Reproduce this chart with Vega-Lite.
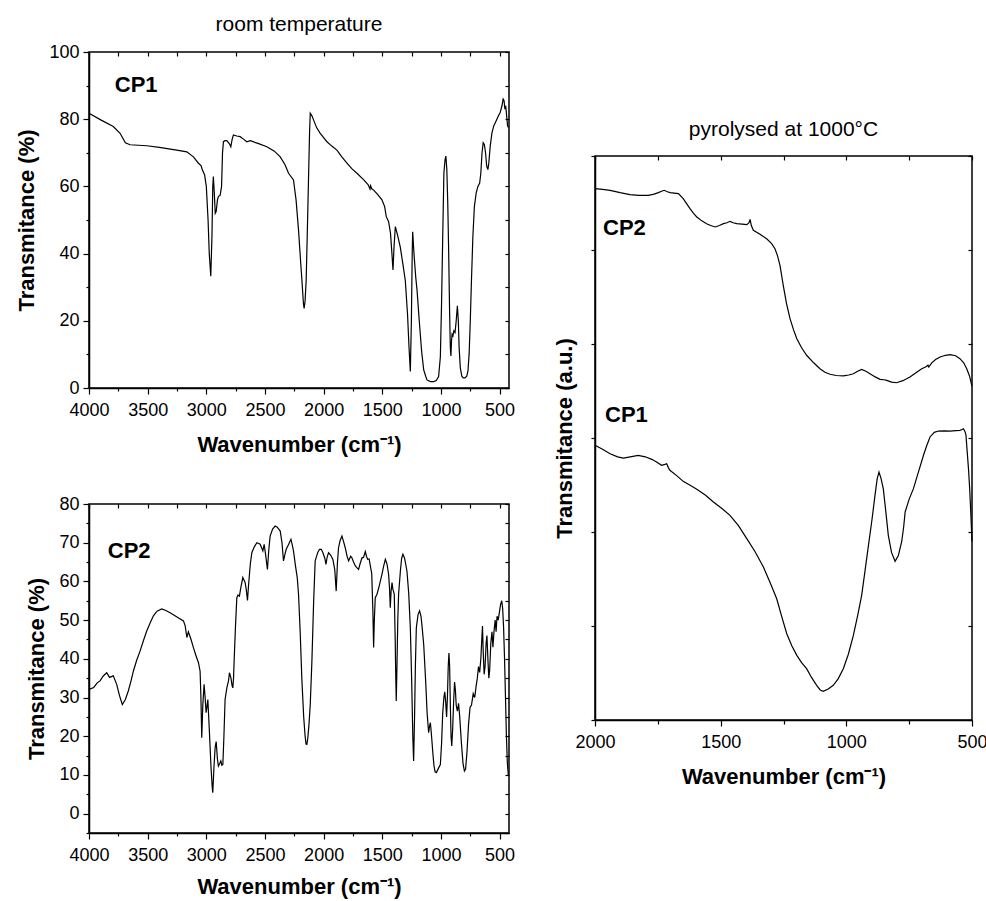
{
"$schema":"https://vega.github.io/schema/vega-lite/v6.json",
"padding":{"left":15,"top":13,"right":5,"bottom":2},
"config":{"font":"Liberation Sans","view":{"stroke":"black","strokeWidth":1.5},
"axis":{"labelFont":"Liberation Sans","labelFontSize":18,"labelColor":"black","titleFont":"Liberation Sans","titleFontSize":22,"titleFontWeight":"bold","titleColor":"black","domainColor":"black","domainWidth":1.5,"tickColor":"black","tickWidth":1.2,"grid":false,"labelFlush":false,"labelOverlap":false},
"title":{"font":"Liberation Sans","fontSize":21,"fontWeight":"normal","color":"black"}},
"datasets":{
"rt1":[{"wn":4000,"t":81.8},{"wn":3900,"t":79.8},{"wn":3793,"t":77.8},{"wn":3735,"t":75.8},{"wn":3690,"t":73.0},{"wn":3650,"t":72.4},{"wn":3508,"t":72.1},{"wn":3400,"t":71.6},{"wn":3252,"t":70.8},{"wn":3166,"t":70.3},{"wn":3110,"t":68.8},{"wn":3067,"t":66.9},{"wn":3045,"t":66.2},{"wn":3035,"t":65.0},{"wn":3015,"t":63.5},{"wn":3000,"t":60},{"wn":2985,"t":50},{"wn":2975,"t":40},{"wn":2962,"t":33.3},{"wn":2952,"t":45},{"wn":2945,"t":60},{"wn":2940,"t":62.9},{"wn":2932,"t":58},{"wn":2924,"t":52},{"wn":2916,"t":52.5},{"wn":2905,"t":56},{"wn":2897,"t":57},{"wn":2882,"t":57.4},{"wn":2870,"t":60},{"wn":2862,"t":70},{"wn":2854,"t":73.3},{"wn":2840,"t":73.6},{"wn":2825,"t":73.6},{"wn":2800,"t":72.5},{"wn":2791,"t":71.8},{"wn":2780,"t":74},{"wn":2769,"t":75.3},{"wn":2740,"t":75},{"wn":2712,"t":74.8},{"wn":2680,"t":74},{"wn":2655,"t":73.3},{"wn":2626,"t":73.6},{"wn":2560,"t":72.8},{"wn":2484,"t":71.8},{"wn":2420,"t":70.5},{"wn":2370,"t":68.8},{"wn":2330,"t":66.5},{"wn":2299,"t":63.9},{"wn":2257,"t":61.9},{"wn":2235,"t":56},{"wn":2214,"t":47},{"wn":2195,"t":37},{"wn":2185,"t":32},{"wn":2172,"t":25},{"wn":2166,"t":23.7},{"wn":2158,"t":26},{"wn":2149,"t":32},{"wn":2140,"t":45},{"wn":2129,"t":62},{"wn":2120,"t":76},{"wn":2114,"t":81.8},{"wn":2100,"t":81},{"wn":2086,"t":79.8},{"wn":2060,"t":77.5},{"wn":2029,"t":75.8},{"wn":2000,"t":74.5},{"wn":1972,"t":73.3},{"wn":1930,"t":72},{"wn":1887,"t":70.8},{"wn":1845,"t":68.8},{"wn":1801,"t":66.9},{"wn":1760,"t":65.3},{"wn":1716,"t":63.9},{"wn":1660,"t":62},{"wn":1620,"t":60.5},{"wn":1605,"t":59.2},{"wn":1600,"t":60.2},{"wn":1590,"t":59.3},{"wn":1574,"t":58.9},{"wn":1540,"t":57.6},{"wn":1503,"t":56},{"wn":1480,"t":54},{"wn":1466,"t":51},{"wn":1446,"t":49.5},{"wn":1430,"t":46},{"wn":1418,"t":40},{"wn":1409,"t":35.1},{"wn":1400,"t":42},{"wn":1389,"t":48},{"wn":1370,"t":45.5},{"wn":1347,"t":42},{"wn":1325,"t":37},{"wn":1304,"t":32},{"wn":1285,"t":22},{"wn":1272,"t":12},{"wn":1261,"t":4.9},{"wn":1252,"t":20},{"wn":1245,"t":40},{"wn":1241,"t":46.5},{"wn":1230,"t":40},{"wn":1215,"t":33},{"wn":1204,"t":29.2},{"wn":1185,"t":20},{"wn":1165,"t":11},{"wn":1147,"t":5.4},{"wn":1130,"t":3.5},{"wn":1119,"t":2.4},{"wn":1090,"t":1.9},{"wn":1062,"t":1.9},{"wn":1040,"t":2.2},{"wn":1020,"t":3.4},{"wn":1005,"t":9.3},{"wn":995,"t":25},{"wn":985,"t":45},{"wn":975,"t":63.9},{"wn":965,"t":68},{"wn":958,"t":69},{"wn":950,"t":65},{"wn":942,"t":55},{"wn":934,"t":40},{"wn":926,"t":22},{"wn":920,"t":12},{"wn":915,"t":9.5},{"wn":910,"t":14},{"wn":905,"t":16},{"wn":898,"t":15.5},{"wn":890,"t":17},{"wn":880,"t":16.5},{"wn":870,"t":20},{"wn":860,"t":24.5},{"wn":852,"t":20},{"wn":845,"t":12},{"wn":835,"t":6},{"wn":822,"t":3.5},{"wn":810,"t":3},{"wn":795,"t":3},{"wn":780,"t":3.5},{"wn":770,"t":5},{"wn":760,"t":10},{"wn":750,"t":20},{"wn":740,"t":32},{"wn":728,"t":45},{"wn":715,"t":54},{"wn":700,"t":58},{"wn":685,"t":60},{"wn":670,"t":61},{"wn":660,"t":64},{"wn":650,"t":70},{"wn":640,"t":73},{"wn":630,"t":72.5},{"wn":620,"t":70},{"wn":610,"t":66},{"wn":600,"t":65},{"wn":592,"t":67},{"wn":580,"t":72},{"wn":565,"t":76},{"wn":550,"t":78},{"wn":530,"t":79.5},{"wn":510,"t":81},{"wn":495,"t":82},{"wn":480,"t":84},{"wn":470,"t":86},{"wn":462,"t":85.5},{"wn":455,"t":83},{"wn":448,"t":84},{"wn":440,"t":81},{"wn":432,"t":78},{"wn":425,"t":77.5}],
"rt2":[{"wn":4000,"t":32.1},{"wn":3960,"t":32.6},{"wn":3930,"t":33.8},{"wn":3906,"t":34.3},{"wn":3880,"t":35.5},{"wn":3849,"t":36.4},{"wn":3825,"t":35.2},{"wn":3793,"t":35.6},{"wn":3764,"t":33.4},{"wn":3740,"t":30.5},{"wn":3716,"t":28.2},{"wn":3690,"t":29.5},{"wn":3665,"t":31.7},{"wn":3640,"t":34.5},{"wn":3622,"t":36.8},{"wn":3595,"t":39.5},{"wn":3565,"t":42},{"wn":3535,"t":44.8},{"wn":3508,"t":47.2},{"wn":3480,"t":49.2},{"wn":3451,"t":51.1},{"wn":3420,"t":52.3},{"wn":3380,"t":52.9},{"wn":3345,"t":52.5},{"wn":3309,"t":51.9},{"wn":3250,"t":50.8},{"wn":3195,"t":49.8},{"wn":3180,"t":48.5},{"wn":3166,"t":45.5},{"wn":3153,"t":47},{"wn":3130,"t":45},{"wn":3110,"t":42.9},{"wn":3090,"t":41},{"wn":3067,"t":39},{"wn":3053,"t":36.8},{"wn":3046,"t":30},{"wn":3039,"t":19.6},{"wn":3030,"t":28},{"wn":3019,"t":33.4},{"wn":3010,"t":30},{"wn":3002,"t":26.1},{"wn":2995,"t":27.5},{"wn":2987,"t":29.5},{"wn":2975,"t":22},{"wn":2960,"t":12},{"wn":2950,"t":7},{"wn":2945,"t":5.4},{"wn":2935,"t":12},{"wn":2925,"t":17},{"wn":2916,"t":18.6},{"wn":2905,"t":14},{"wn":2897,"t":12.3},{"wn":2885,"t":13},{"wn":2876,"t":13.6},{"wn":2868,"t":12.5},{"wn":2859,"t":12.7},{"wn":2850,"t":20},{"wn":2840,"t":29.5},{"wn":2825,"t":32.5},{"wn":2811,"t":34.3},{"wn":2803,"t":36.4},{"wn":2790,"t":35},{"wn":2780,"t":33},{"wn":2774,"t":32.5},{"wn":2768,"t":35},{"wn":2763,"t":39.4},{"wn":2752,"t":48},{"wn":2740,"t":55.8},{"wn":2730,"t":56.5},{"wn":2718,"t":56.2},{"wn":2705,"t":58.5},{"wn":2689,"t":61},{"wn":2669,"t":59.7},{"wn":2660,"t":58},{"wn":2649,"t":55.1},{"wn":2640,"t":59},{"wn":2625,"t":64.5},{"wn":2612,"t":67.4},{"wn":2590,"t":69},{"wn":2569,"t":70},{"wn":2541,"t":69.6},{"wn":2518,"t":67.9},{"wn":2507,"t":69.6},{"wn":2495,"t":67},{"wn":2479,"t":63.1},{"wn":2468,"t":68},{"wn":2456,"t":71.7},{"wn":2435,"t":73.5},{"wn":2413,"t":74.3},{"wn":2395,"t":74},{"wn":2370,"t":73},{"wn":2355,"t":70},{"wn":2342,"t":65.3},{"wn":2330,"t":67},{"wn":2319,"t":68.3},{"wn":2300,"t":69.5},{"wn":2279,"t":70.9},{"wn":2268,"t":69.5},{"wn":2257,"t":67.9},{"wn":2240,"t":64},{"wn":2225,"t":61},{"wn":2214,"t":56.7},{"wn":2200,"t":47},{"wn":2185,"t":34.3},{"wn":2170,"t":25},{"wn":2158,"t":20},{"wn":2150,"t":18},{"wn":2143,"t":17.9},{"wn":2135,"t":19.5},{"wn":2125,"t":23},{"wn":2114,"t":28.2},{"wn":2100,"t":39.4},{"wn":2085,"t":55},{"wn":2072,"t":65.3},{"wn":2050,"t":67.5},{"wn":2035,"t":68.3},{"wn":2020,"t":68.3},{"wn":2006,"t":67.4},{"wn":1990,"t":66},{"wn":1980,"t":64.4},{"wn":1970,"t":66.3},{"wn":1958,"t":67.4},{"wn":1940,"t":66.8},{"wn":1921,"t":65.7},{"wn":1905,"t":63},{"wn":1893,"t":57.5},{"wn":1882,"t":65},{"wn":1873,"t":68.7},{"wn":1860,"t":70.5},{"wn":1844,"t":71.7},{"wn":1830,"t":70.3},{"wn":1816,"t":68.7},{"wn":1800,"t":66.5},{"wn":1787,"t":65.3},{"wn":1770,"t":66.5},{"wn":1759,"t":66.1},{"wn":1745,"t":65},{"wn":1730,"t":64},{"wn":1715,"t":63.5},{"wn":1702,"t":63.1},{"wn":1690,"t":64.5},{"wn":1673,"t":66.1},{"wn":1660,"t":66.2},{"wn":1645,"t":67.7},{"wn":1635,"t":66.5},{"wn":1625,"t":65.7},{"wn":1612,"t":65.8},{"wn":1602,"t":64},{"wn":1590,"t":62},{"wn":1580,"t":52},{"wn":1574,"t":42.9},{"wn":1568,"t":50},{"wn":1560,"t":55.8},{"wn":1545,"t":56.7},{"wn":1525,"t":59},{"wn":1503,"t":61.8},{"wn":1488,"t":64},{"wn":1474,"t":65.7},{"wn":1460,"t":64.5},{"wn":1446,"t":61.8},{"wn":1438,"t":58},{"wn":1432,"t":53.2},{"wn":1425,"t":57.5},{"wn":1417,"t":59.7},{"wn":1410,"t":58},{"wn":1398,"t":56.7},{"wn":1390,"t":45},{"wn":1385,"t":35},{"wn":1381,"t":29.1},{"wn":1375,"t":38},{"wn":1368,"t":50},{"wn":1361,"t":56.7},{"wn":1345,"t":63},{"wn":1335,"t":66},{"wn":1324,"t":67},{"wn":1310,"t":66},{"wn":1290,"t":62.7},{"wn":1275,"t":57},{"wn":1261,"t":48},{"wn":1250,"t":35},{"wn":1240,"t":20},{"wn":1233,"t":13.6},{"wn":1225,"t":25},{"wn":1218,"t":38},{"wn":1210,"t":48},{"wn":1195,"t":51.5},{"wn":1182,"t":52.4},{"wn":1170,"t":51},{"wn":1160,"t":48},{"wn":1147,"t":43.7},{"wn":1130,"t":34},{"wn":1118,"t":26},{"wn":1105,"t":20.9},{"wn":1098,"t":22.5},{"wn":1090,"t":23.5},{"wn":1080,"t":20},{"wn":1070,"t":16},{"wn":1060,"t":12.5},{"wn":1050,"t":10.8},{"wn":1039,"t":10.6},{"wn":1025,"t":11.5},{"wn":1005,"t":12.7},{"wn":995,"t":18},{"wn":985,"t":26},{"wn":975,"t":30},{"wn":968,"t":31.5},{"wn":960,"t":29},{"wn":952,"t":25},{"wn":945,"t":30},{"wn":938,"t":38},{"wn":932,"t":41.5},{"wn":926,"t":38},{"wn":920,"t":28},{"wn":914,"t":20},{"wn":908,"t":17.5},{"wn":900,"t":22},{"wn":892,"t":29},{"wn":884,"t":34},{"wn":877,"t":32},{"wn":870,"t":28},{"wn":860,"t":26.5},{"wn":850,"t":28.5},{"wn":840,"t":25},{"wn":825,"t":18},{"wn":812,"t":13},{"wn":800,"t":11},{"wn":790,"t":11.5},{"wn":778,"t":16},{"wn":765,"t":23},{"wn":752,"t":27.5},{"wn":740,"t":28},{"wn":725,"t":31},{"wn":712,"t":30},{"wn":700,"t":33},{"wn":690,"t":35},{"wn":680,"t":38},{"wn":670,"t":36.5},{"wn":660,"t":40},{"wn":652,"t":45},{"wn":646,"t":48.5},{"wn":640,"t":42},{"wn":632,"t":36},{"wn":624,"t":38},{"wn":615,"t":44},{"wn":608,"t":46},{"wn":600,"t":40},{"wn":592,"t":35},{"wn":585,"t":37},{"wn":575,"t":44},{"wn":565,"t":47},{"wn":557,"t":43},{"wn":548,"t":47},{"wn":538,"t":50},{"wn":530,"t":47},{"wn":522,"t":51},{"wn":512,"t":50},{"wn":502,"t":52},{"wn":492,"t":54},{"wn":482,"t":55},{"wn":474,"t":53},{"wn":466,"t":48},{"wn":458,"t":40},{"wn":450,"t":30},{"wn":442,"t":20},{"wn":434,"t":13},{"wn":426,"t":10}],
"py2":[{"wn":2000,"t":5.652},{"wn":1970,"t":5.645},{"wn":1940,"t":5.635},{"wn":1900,"t":5.61},{"wn":1861,"t":5.589},{"wn":1825,"t":5.582},{"wn":1788,"t":5.582},{"wn":1765,"t":5.595},{"wn":1748,"t":5.61},{"wn":1735,"t":5.625},{"wn":1725,"t":5.635},{"wn":1712,"t":5.62},{"wn":1701,"t":5.61},{"wn":1685,"t":5.605},{"wn":1668,"t":5.6},{"wn":1649,"t":5.546},{"wn":1635,"t":5.49},{"wn":1622,"t":5.44},{"wn":1608,"t":5.39},{"wn":1595,"t":5.351},{"wn":1575,"t":5.31},{"wn":1556,"t":5.28},{"wn":1540,"t":5.26},{"wn":1522,"t":5.245},{"wn":1505,"t":5.26},{"wn":1489,"t":5.28},{"wn":1475,"t":5.29},{"wn":1463,"t":5.305},{"wn":1450,"t":5.29},{"wn":1436,"t":5.28},{"wn":1415,"t":5.275},{"wn":1396,"t":5.27},{"wn":1387,"t":5.29},{"wn":1383,"t":5.326},{"wn":1378,"t":5.26},{"wn":1370,"t":5.21},{"wn":1345,"t":5.17},{"wn":1317,"t":5.12},{"wn":1298,"t":5.07},{"wn":1284,"t":5.014},{"wn":1274,"t":4.94},{"wn":1264,"t":4.837},{"wn":1251,"t":4.624},{"wn":1238,"t":4.43},{"wn":1224,"t":4.269},{"wn":1210,"t":4.15},{"wn":1197,"t":4.056},{"wn":1178,"t":3.96},{"wn":1158,"t":3.88},{"wn":1130,"t":3.8},{"wn":1105,"t":3.737},{"wn":1085,"t":3.7},{"wn":1065,"t":3.678},{"wn":1040,"t":3.665},{"wn":1012,"t":3.66},{"wn":990,"t":3.67},{"wn":972,"t":3.684},{"wn":955,"t":3.71},{"wn":939,"t":3.73},{"wn":922,"t":3.71},{"wn":906,"t":3.684},{"wn":885,"t":3.65},{"wn":866,"t":3.624},{"wn":850,"t":3.62},{"wn":839,"t":3.613},{"wn":820,"t":3.595},{"wn":800,"t":3.588},{"wn":775,"t":3.61},{"wn":747,"t":3.649},{"wn":720,"t":3.7},{"wn":700,"t":3.737},{"wn":685,"t":3.755},{"wn":675,"t":3.775},{"wn":672,"t":3.755},{"wn":660,"t":3.8},{"wn":645,"t":3.835},{"wn":627,"t":3.862},{"wn":605,"t":3.88},{"wn":587,"t":3.886},{"wn":565,"t":3.875},{"wn":548,"t":3.844},{"wn":533,"t":3.8},{"wn":521,"t":3.737},{"wn":510,"t":3.66},{"wn":500,"t":3.55}],
"py1":[{"wn":2000,"t":2.922},{"wn":1970,"t":2.88},{"wn":1940,"t":2.833},{"wn":1910,"t":2.8},{"wn":1887,"t":2.787},{"wn":1860,"t":2.8},{"wn":1828,"t":2.816},{"wn":1800,"t":2.8},{"wn":1774,"t":2.773},{"wn":1755,"t":2.745},{"wn":1735,"t":2.709},{"wn":1722,"t":2.72},{"wn":1715,"t":2.727},{"wn":1708,"t":2.685},{"wn":1702,"t":2.656},{"wn":1675,"t":2.6},{"wn":1649,"t":2.539},{"wn":1620,"t":2.495},{"wn":1595,"t":2.454},{"wn":1560,"t":2.39},{"wn":1529,"t":2.319},{"wn":1495,"t":2.25},{"wn":1463,"t":2.177},{"wn":1430,"t":2.07},{"wn":1396,"t":1.929},{"wn":1363,"t":1.79},{"wn":1330,"t":1.628},{"wn":1303,"t":1.46},{"wn":1277,"t":1.29},{"wn":1257,"t":1.1},{"wn":1237,"t":0.918},{"wn":1217,"t":0.79},{"wn":1197,"t":0.688},{"wn":1178,"t":0.61},{"wn":1158,"t":0.546},{"wn":1138,"t":0.45},{"wn":1118,"t":0.369},{"wn":1104,"t":0.32},{"wn":1092,"t":0.305},{"wn":1072,"t":0.33},{"wn":1052,"t":0.369},{"wn":1032,"t":0.44},{"wn":1012,"t":0.546},{"wn":992,"t":0.7},{"wn":972,"t":0.9},{"wn":955,"t":1.11},{"wn":939,"t":1.326},{"wn":925,"t":1.6},{"wn":912,"t":1.858},{"wn":898,"t":2.13},{"wn":886,"t":2.39},{"wn":877,"t":2.57},{"wn":870,"t":2.638},{"wn":862,"t":2.57},{"wn":853,"t":2.461},{"wn":843,"t":2.22},{"wn":833,"t":1.965},{"wn":820,"t":1.78},{"wn":806,"t":1.688},{"wn":793,"t":1.75},{"wn":780,"t":1.894},{"wn":772,"t":2.05},{"wn":766,"t":2.213},{"wn":750,"t":2.35},{"wn":733,"t":2.461},{"wn":713,"t":2.64},{"wn":693,"t":2.816},{"wn":680,"t":2.92},{"wn":667,"t":3.011},{"wn":650,"t":3.06},{"wn":634,"t":3.074},{"wn":610,"t":3.075},{"wn":587,"t":3.074},{"wn":565,"t":3.078},{"wn":548,"t":3.082},{"wn":540,"t":3.09},{"wn":534,"t":3.099},{"wn":528,"t":3.07},{"wn":524,"t":3.03},{"wn":519,"t":2.85},{"wn":514,"t":2.674},{"wn":509,"t":2.45},{"wn":505,"t":2.213},{"wn":500,"t":1.9}],
"lab":[{"panel":"a","wn":3780,"t":88,"label":"CP1"},{"panel":"b","wn":3840,"t":66,"label":"CP2"},{"panel":"c","wn":1968,"t":5.16,"label":"CP2"},{"panel":"c","wn":1960,"t":3.17,"label":"CP1"}],
"none":[]
},
"hconcat":[
{"vconcat":[
{"width":420,"height":336,
"title":{"text":"room temperature","offset":8},
"layer":[
{"data":{"name":"rt1"},"mark":{"type":"line","color":"black","strokeWidth":1.2},
"encoding":{"x":{"field":"wn","type":"quantitative","scale":{"domain":[4000,420],"nice":false,"zero":false},
"axis":{"orient":"bottom","values":[4000,3750,3500,3250,3000,2750,2500,2250,2000,1750,1500,1250,1000,750,500],"format":"d","labelExpr":"datum.value % 500 === 0 ? datum.label : ''","tickSize":{"condition":{"test":"datum.value % 500 === 0","value":6},"value":3},"labelPadding":7,"titlePadding":15,"title":"Wavenumber (cm⁻¹)"}},
"y":{"field":"t","type":"quantitative","scale":{"domain":[0,100],"nice":false,"zero":false},
"axis":{"orient":"left","values":[0,10,20,30,40,50,60,70,80,90,100],"format":"d","labelExpr":"datum.value % 20 === 0 ? datum.label : ''","tickSize":{"condition":{"test":"datum.value % 20 === 0","value":6},"value":3},"labelPadding":4,"titlePadding":10,"title":"Transmitance (%)"}}}},
{"data":{"name":"rt1"},"mark":{"type":"line","strokeOpacity":0},
"encoding":{"x":{"field":"wn","type":"quantitative","scale":{"domain":[4000,420],"nice":false,"zero":false},
"axis":{"orient":"top","values":[4000,3750,3500,3250,3000,2750,2500,2250,2000,1750,1500,1250,1000,750,500],"labels":false,"title":null,"tickSize":-4,"domain":false}},
"y":{"field":"t","type":"quantitative","scale":{"domain":[0,100],"nice":false,"zero":false},
"axis":{"orient":"right","values":[0,10,20,30,40,50,60,70,80,90,100],"labels":false,"title":null,"tickSize":-4,"domain":false}}}},
{"data":{"name":"lab"},"transform":[{"filter":"datum.panel == 'a'"}],"mark":{"type":"text","align":"left","baseline":"alphabetic","fontSize":22,"fontWeight":"bold","color":"black"},
"encoding":{"x":{"field":"wn","type":"quantitative","scale":{"domain":[4000,420],"nice":false,"zero":false},"axis":null},"y":{"field":"t","type":"quantitative","scale":{"domain":[0,100],"nice":false,"zero":false},"axis":null},"text":{"field":"label"}}}
],
"resolve":{"axis":{"x":"independent","y":"independent"}}},
{"width":420,"height":329,
"layer":[
{"data":{"name":"rt2"},"mark":{"type":"line","color":"black","strokeWidth":1.2},
"encoding":{"x":{"field":"wn","type":"quantitative","scale":{"domain":[4000,420],"nice":false,"zero":false},
"axis":{"orient":"bottom","values":[4000,3750,3500,3250,3000,2750,2500,2250,2000,1750,1500,1250,1000,750,500],"format":"d","labelExpr":"datum.value % 500 === 0 ? datum.label : ''","tickSize":{"condition":{"test":"datum.value % 500 === 0","value":6},"value":3},"labelPadding":7,"titlePadding":12,"title":"Wavenumber (cm⁻¹)"}},
"y":{"field":"t","type":"quantitative","scale":{"domain":[-5,80],"nice":false,"zero":false},
"axis":{"orient":"left","values":[-5,0,5,10,15,20,25,30,35,40,45,50,55,60,65,70,75,80],"format":"d","labelExpr":"datum.value % 10 === 0 ? datum.label : ''","tickSize":{"condition":{"test":"datum.value % 10 === 0","value":6},"value":3},"labelPadding":4,"titlePadding":10,"title":"Transmitance (%)"}}}},
{"data":{"name":"rt2"},"mark":{"type":"line","strokeOpacity":0},
"encoding":{"x":{"field":"wn","type":"quantitative","scale":{"domain":[4000,420],"nice":false,"zero":false},
"axis":{"orient":"top","values":[4000,3750,3500,3250,3000,2750,2500,2250,2000,1750,1500,1250,1000,750,500],"labels":false,"title":null,"tickSize":-4,"domain":false}},
"y":{"field":"t","type":"quantitative","scale":{"domain":[-5,80],"nice":false,"zero":false},
"axis":{"orient":"right","values":[-5,0,5,10,15,20,25,30,35,40,45,50,55,60,65,70,75,80],"labels":false,"title":null,"tickSize":-4,"domain":false}}}},
{"data":{"name":"lab"},"transform":[{"filter":"datum.panel == 'b'"}],"mark":{"type":"text","align":"left","baseline":"alphabetic","fontSize":22,"fontWeight":"bold","color":"black"},
"encoding":{"x":{"field":"wn","type":"quantitative","scale":{"domain":[4000,420],"nice":false,"zero":false},"axis":null},"y":{"field":"t","type":"quantitative","scale":{"domain":[-5,80],"nice":false,"zero":false},"axis":null},"text":{"field":"label"}}}
],
"resolve":{"axis":{"x":"independent","y":"independent"}}}
],"spacing":38},
{"vconcat":[
{"width":377,"height":66,"view":{"stroke":null},"data":{"name":"none"},"mark":{"type":"text"},"encoding":{}},
{"width":377,"height":564,
"title":{"text":"pyrolysed at 1000°C","offset":15},
"layer":[
{"data":{"name":"py2"},"mark":{"type":"line","color":"black","strokeWidth":1.2},
"encoding":{"x":{"field":"wn","type":"quantitative","scale":{"domain":[2000,500],"nice":false,"zero":false},
"axis":{"orient":"bottom","values":[2000,1750,1500,1250,1000,750,500],"format":"d","labelExpr":"datum.value % 500 === 0 ? datum.label : ''","tickSize":{"condition":{"test":"datum.value % 500 === 0","value":6},"value":4},"labelPadding":7,"titlePadding":15,"title":"Wavenumber (cm⁻¹)"}},
"y":{"field":"t","type":"quantitative","scale":{"domain":[0,6],"nice":false,"zero":false},
"axis":{"orient":"left","values":[0,1,2,3,4,5,6],"labels":false,"tickSize":4,"titlePadding":14,"title":"Transmitance (a.u.)"}}}},
{"data":{"name":"py1"},"mark":{"type":"line","color":"black","strokeWidth":1.2},
"encoding":{"x":{"field":"wn","type":"quantitative","scale":{"domain":[2000,500],"nice":false,"zero":false},
"axis":{"orient":"top","values":[2000,1750,1500,1250,1000,750,500],"labels":false,"title":null,"tickSize":-4,"domain":false}},
"y":{"field":"t","type":"quantitative","scale":{"domain":[0,6],"nice":false,"zero":false},
"axis":{"orient":"right","values":[0,1,2,3,4,5,6],"labels":false,"title":null,"tickSize":-4,"domain":false}}}},
{"data":{"name":"lab"},"transform":[{"filter":"datum.panel == 'c'"}],"mark":{"type":"text","align":"left","baseline":"alphabetic","fontSize":22,"fontWeight":"bold","color":"black"},
"encoding":{"x":{"field":"wn","type":"quantitative","scale":{"domain":[2000,500],"nice":false,"zero":false},"axis":null},"y":{"field":"t","type":"quantitative","scale":{"domain":[0,6],"nice":false,"zero":false},"axis":null},"text":{"field":"label"}}}
],
"resolve":{"axis":{"x":"independent","y":"independent"}}}
],"spacing":0}
],"spacing":36}
